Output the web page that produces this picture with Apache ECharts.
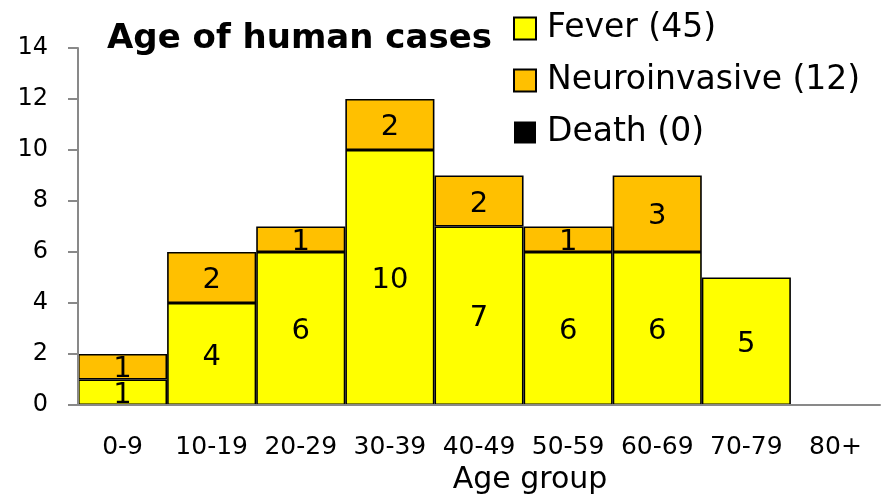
<!DOCTYPE html>
<html><head><meta charset="utf-8">
<script src="https://cdn.jsdelivr.net/npm/echarts@6/dist/echarts.min.js"></script>
<style>html,body{margin:0;padding:0;background:#fff}#c{width:892px;height:495px}</style>
</head><body><div id="c"></div>
<script>
var categories = ['0-9','10-19','20-29','30-39','40-49','50-59','60-69','70-79','80+'];
var fever = [1,4,6,10,7,6,6,5,0];
var neuro = [1,2,1,2,2,1,3,0,0];
var death = [0,0,0,0,0,0,0,0,0];
var seriesNames = ['Fever (45)','Neuroinvasive (12)','Death (0)'];
var FONT = '"DejaVu Sans",sans-serif';
function nz(arr){return arr.map(function(v){return v===0?'-':v;});}
var chart = echarts.init(document.getElementById('c'));
function lbl(p){return p.value ? String(p.value) : '';}
chart.setOption({
  animation:false,
  textStyle:{fontFamily:FONT},
  title:{text:'Age of human cases',left:102,top:17,textStyle:{fontFamily:FONT,fontSize:34,fontWeight:'bold',color:'#000'}},
  legend:{orient:'vertical',left:513,top:12,padding:0,icon:'rect',itemWidth:22,itemHeight:22,itemGap:19,
    textStyle:{fontFamily:FONT,fontSize:33,color:'#000',padding:[0,0,0,6]},data:seriesNames},
  grid:{left:78,right:12,top:48,bottom:90,containLabel:false,outerBoundsMode:'none'},
  xAxis:{type:'category',data:categories,z:5,
    axisLine:{lineStyle:{color:'#898989',width:2}},
    axisTick:{length:9,lineStyle:{color:'#898989',width:2}},
    axisLabel:{color:'#000',fontSize:25,fontFamily:FONT,margin:30,interval:0},
    name:'Age group',nameLocation:'middle',nameGap:60,
    nameTextStyle:{color:'#000',fontSize:30,fontFamily:FONT,padding:[0,0,0,102]}},
  yAxis:{type:'value',min:0,max:14,interval:2,z:5,
    axisLine:{show:true,lineStyle:{color:'#898989',width:2}},
    axisTick:{show:true,length:10,lineStyle:{color:'#898989',width:2}},
    splitLine:{show:false},
    axisLabel:{color:'#000',fontSize:24,fontFamily:FONT,margin:30}},
  series:[
    {name:seriesNames[0],type:'bar',stack:'a',data:nz(fever),barCategoryGap:'0%',
     itemStyle:{color:'#ffff00',borderColor:'#000',borderWidth:1.6},
     label:{show:true,position:'inside',offset:[0,3],formatter:lbl,fontSize:29,color:'#000',fontFamily:FONT}},
    {name:seriesNames[1],type:'bar',stack:'a',data:nz(neuro),barCategoryGap:'0%',
     itemStyle:{color:'#ffc000',borderColor:'#000',borderWidth:1.6},
     label:{show:true,position:'inside',offset:[0,3],formatter:lbl,fontSize:29,color:'#000',fontFamily:FONT}},
    {name:seriesNames[2],type:'bar',stack:'a',data:nz(death),barCategoryGap:'0%',
     itemStyle:{color:'#000',borderColor:'#000',borderWidth:0},label:{show:false}}
  ]
});
</script></body></html>
